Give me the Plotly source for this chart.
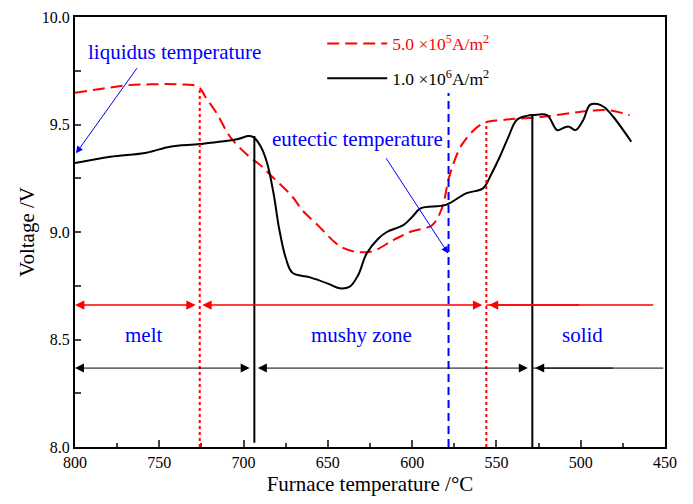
import plotly.graph_objects as go

# ---- data ----
temp_5e5 = [800, 785, 770, 755, 740, 727, 722, 716, 708, 698, 690, 683, 671, 665, 657,
            641, 625, 611, 601, 588, 582, 578, 570, 558, 546, 522, 499, 492, 484, 471]
volt_5e5 = [9.648, 9.665, 9.682, 9.687, 9.687, 9.676, 9.62, 9.553, 9.443, 9.36, 9.31, 9.257,
            9.164, 9.10, 9.04, 8.926, 8.908, 8.963, 9.001, 9.033, 9.118, 9.257, 9.412,
            9.505, 9.521, 9.536, 9.56, 9.565, 9.567, 9.544]

temp_1e6 = [800, 779, 757.5, 743.6, 725.8, 704, 697, 694, 690, 686, 682, 679, 675, 671,
            661, 650, 643, 637, 632, 627, 620, 615, 605, 600, 595, 580, 568, 558, 553,
            548, 543, 538, 532, 528, 520, 514, 510, 507, 503, 498.5, 494.5, 490, 486,
            480.7, 470]
volt_1e6 = [9.321, 9.35, 9.369, 9.397, 9.409, 9.431, 9.446, 9.44, 9.40, 9.32, 9.17, 9.02,
            8.88, 8.81, 8.79, 8.76, 8.738, 8.746, 8.80, 8.90, 8.97, 9.0, 9.033, 9.07,
            9.11, 9.126, 9.18, 9.203, 9.27, 9.35, 9.44, 9.521, 9.54, 9.544, 9.544, 9.474,
            9.485, 9.49, 9.474, 9.521, 9.591, 9.595, 9.58, 9.536, 9.42]

series_names = ["5.0 ×10<sup>5</sup>A/m<sup>2</sup>", "1.0 ×10<sup>6</sup>A/m<sup>2</sup>"]

# transition temperatures (°C) and the voltage where each marker line starts
liquidus_5e5, solidus_5e5 = 726, 556
liquidus_1e6, solidus_1e6 = 693.6, 528.7
eutectic_T = 578.4
liq_5e5_V, sol_5e5_V = 9.676, 9.51
liq_1e6_V, sol_1e6_V = 9.446, 9.544
eutectic_top_V = 9.647

red_arrow_V = 8.66
black_arrow_V = 8.367
zone_labels = ["melt", "mushy zone", "solid"]
zone_label_T = [759.6, 629.8, 499]
zone_label_V = 8.52

x_ticks = [800, 750, 700, 650, 600, 550, 500, 450]
y_ticks = [8.0, 8.5, 9.0, 9.5, 10.0]

FONT = "Liberation Serif"
RED = "#FF0000"
BLUE = "#0000FF"

fig = go.Figure()
fig.add_trace(go.Scatter(x=temp_5e5, y=volt_5e5, mode="lines", line_shape="spline",
                         name="<span style='color:#FF0000'>" + series_names[0] + "</span>",
                         legendgroup="a",
                         line=dict(color=RED, width=2, dash="12px,6px")))
fig.add_trace(go.Scatter(x=temp_1e6, y=volt_1e6, mode="lines", line_shape="spline",
                         name=series_names[1], legendgroup="b",
                         line=dict(color="black", width=2)))

shapes = []
# vertical markers
shapes.append(dict(type="line", xref="x", yref="y", x0=liquidus_5e5, x1=liquidus_5e5,
                   y0=8.0, y1=liq_5e5_V, line=dict(color=RED, width=2, dash="3px,3px")))
shapes.append(dict(type="line", xref="x", yref="y", x0=solidus_5e5, x1=solidus_5e5,
                   y0=8.0, y1=sol_5e5_V, line=dict(color=RED, width=2, dash="3px,3px")))
shapes.append(dict(type="line", xref="x", yref="y", x0=liquidus_1e6, x1=liquidus_1e6,
                   y0=8.02, y1=liq_1e6_V, line=dict(color="black", width=2)))
shapes.append(dict(type="line", xref="x", yref="y", x0=solidus_1e6, x1=solidus_1e6,
                   y0=8.0, y1=sol_1e6_V, line=dict(color="black", width=2)))
shapes.append(dict(type="line", xref="x", yref="y", x0=eutectic_T, x1=eutectic_T,
                   y0=8.0, y1=eutectic_top_V, line=dict(color=BLUE, width=2, dash="8px,5px")))
# arrow lines without heads at the right end
shapes.append(dict(type="line", xref="x", yref="y", x0=solidus_5e5, x1=457,
                   y0=red_arrow_V, y1=red_arrow_V, line=dict(color=RED, width=1.5)))
shapes.append(dict(type="line", xref="x", yref="y", x0=solidus_1e6, x1=451,
                   y0=black_arrow_V, y1=black_arrow_V, line=dict(color="black", width=1)))

annotations = []


def harrow(x_head, x_tail, y, color, width, both=True):
    size = 1.25 if width >= 1.5 else 1.8
    annotations.append(dict(x=x_head, y=y, ax=x_tail, ay=y, xref="x", yref="y",
                            axref="x", ayref="y", text="", showarrow=True,
                            arrowhead=2, startarrowhead=2, arrowsize=size,
                            startarrowsize=size,
                            arrowside="end+start" if both else "end",
                            arrowwidth=width, arrowcolor=color, standoff=0, startstandoff=0))


# red arrows
harrow(800, 727.5, red_arrow_V, RED, 1.5)
harrow(724.5, 557.5, red_arrow_V, RED, 1.5)
harrow(554.5, 500, red_arrow_V, RED, 1.5, both=False)
# black arrows
harrow(800, 695.5, black_arrow_V, "black", 1)
harrow(691.5, 530.5, black_arrow_V, "black", 1)
harrow(527, 480, black_arrow_V, "black", 1, both=False)

for lab, t in zip(zone_labels, zone_label_T):
    annotations.append(dict(x=t, y=zone_label_V, xref="x", yref="y", text=lab,
                            showarrow=False, font=dict(family=FONT, size=21, color=BLUE)))

annotations.append(dict(x=741, y=9.837, xref="x", yref="y", text="liquidus temperature",
                        showarrow=False, font=dict(family=FONT, size=21, color=BLUE)))
annotations.append(dict(x=799.4, y=9.366, ax=762.6, ay=9.769, xref="x", yref="y",
                        axref="x", ayref="y", text="", showarrow=True, arrowhead=2,
                        arrowsize=1.4, arrowwidth=1, arrowcolor=BLUE, standoff=0))
annotations.append(dict(x=632.7, y=9.431, xref="x", yref="y", text="eutectic temperature",
                        showarrow=False, font=dict(family=FONT, size=21, color=BLUE)))
annotations.append(dict(x=578.6, y=8.90, ax=616, ay=9.35, xref="x", yref="y",
                        axref="x", ayref="y", text="", showarrow=True, arrowhead=2,
                        arrowsize=1.4, arrowwidth=1, arrowcolor=BLUE, standoff=0))

fig.update_layout(
    width=677, height=488,
    margin=dict(l=67, r=20, t=9, b=49, autoexpand=False),
    paper_bgcolor="white", plot_bgcolor="white",
    font=dict(family=FONT, size=16, color="black"),
    shapes=shapes, annotations=annotations,
    showlegend=True,
    legend=dict(x=0.419, y=0.98, xanchor="left", yanchor="top",
                bgcolor="rgba(0,0,0,0)", font=dict(family=FONT, size=17.5),
                tracegroupgap=9, itemwidth=60),
)
fig.update_xaxes(range=[800, 450], tickvals=x_ticks, ticktext=[str(v) for v in x_ticks],
                 automargin=False,
                 ticks="inside", ticklen=7, tickwidth=2, showgrid=False, zeroline=False,
                 showline=True, linewidth=2, linecolor="black", mirror=True,
                 minor=dict(dtick=25, ticks="inside", ticklen=4, tickwidth=2),
                 title=dict(text="Furnace temperature /°C", font=dict(family=FONT, size=21),
                            standoff=16),
                 tickfont=dict(family=FONT, size=16))
fig.update_yaxes(range=[8.0, 10.0], tickvals=y_ticks, ticktext=[f"{v:.1f}" for v in y_ticks],
                 automargin=False,
                 ticks="inside", ticklen=6, tickwidth=2, showgrid=False, zeroline=False,
                 showline=True, linewidth=2, linecolor="black", mirror=True,
                 minor=dict(dtick=0.25, ticks="inside", ticklen=6, tickwidth=2),
                 title=dict(text="Voltage /V", font=dict(family=FONT, size=21), standoff=1),
                 tickfont=dict(family=FONT, size=16))

fig.write_html("out.html")
